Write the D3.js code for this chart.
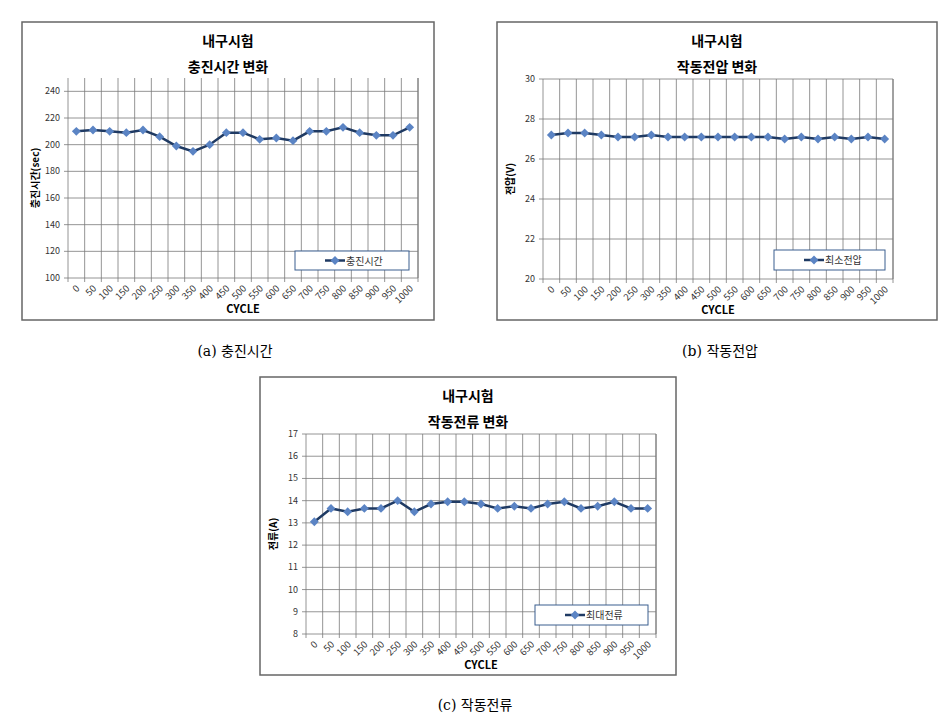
<!DOCTYPE html>
<html><head><meta charset="utf-8">
<script src="https://cdn.jsdelivr.net/npm/d3@7"></script>
<style>body{margin:0;background:#fff}svg{font-family:"Noto Sans CJK KR","Noto Sans",sans-serif}</style>
</head><body><svg id="v" width="942" height="713"></svg>
<script>
const cycles = [0,50,100,150,200,250,300,350,400,450,500,550,600,650,700,750,800,850,900,950,1000];
const chargeTime = [210,211,210,209,211,206,199,195,200,209,209,204,205,203,210,210,213,209,207,207,213];
const voltage = [27.2,27.3,27.3,27.2,27.1,27.1,27.2,27.1,27.1,27.1,27.1,27.1,27.1,27.1,27.0,27.1,27.0,27.1,27.0,27.1,27.0];
const current = [13.05,13.65,13.5,13.65,13.65,14.0,13.5,13.85,13.95,13.95,13.85,13.65,13.75,13.65,13.85,13.95,13.65,13.75,13.95,13.65,13.65];
const chargeTicks = [100,120,140,160,180,200,220,240];
const voltTicks = [20,22,24,26,28,30];
const currTicks = [8,9,10,11,12,13,14,15,16,17];

const svg = d3.select('#v');

function drawChart(c) {
  const g = svg.append('g');
  g.append('rect').attr('x', c.frame[0]).attr('y', c.frame[1])
    .attr('width', c.frame[2]).attr('height', c.frame[3])
    .attr('fill', '#fff').attr('stroke', '#666').attr('stroke-width', 1.5);
  const cx = c.frame[0] + c.frame[2] / 2;
  g.append('text').attr('x', cx).attr('y', c.frame[1] + 24).attr('text-anchor', 'middle')
    .attr('font-size', 14).attr('font-weight', 'bold').text('내구시험');
  g.append('text').attr('x', cx).attr('y', c.frame[1] + 50).attr('text-anchor', 'middle')
    .attr('font-size', 14).attr('font-weight', 'bold').text(c.title);

  const x = d3.scaleBand().domain(cycles).range([c.plot[0], c.plot[1]]);
  const y = d3.scaleLinear().domain(c.domain).range([c.plot[3], c.plot[2]]);

  // vertical grid at category boundaries
  const bounds = d3.range(cycles.length + 1).map(i => c.plot[0] + i * x.step());
  g.selectAll('.vg').data(bounds).join('line')
    .attr('x1', d => d).attr('x2', d => d).attr('y1', c.plot[2]).attr('y2', c.plot[3] + 4)
    .attr('stroke', '#7a7a7a').attr('stroke-width', 0.8);
  g.selectAll('.hg').data(c.ticks).join('line')
    .attr('x1', c.plot[0] - 4).attr('x2', c.plot[1]).attr('y1', d => y(d)).attr('y2', d => y(d))
    .attr('stroke', '#7a7a7a').attr('stroke-width', 0.8);
  g.append('line').attr('x1', c.plot[1]).attr('x2', c.plot[1]).attr('y1', c.plot[2]).attr('y2', c.plot[3])
    .attr('stroke', '#7a7a7a');

  g.selectAll('.yt').data(c.ticks).join('text')
    .attr('x', c.plot[0] - 8).attr('y', d => y(d) + 3).attr('text-anchor', 'end')
    .attr('font-size', 9).attr('fill', '#333').text(d => d);
  g.selectAll('.xt').data(cycles).join('text')
    .attr('transform', d => `translate(${x(d) + x.bandwidth() / 2 + 4},${c.plot[3] + 11}) rotate(-45)`)
    .attr('text-anchor', 'end').attr('font-size', 9.5).attr('fill', '#333').text(d => d);
  g.append('text').attr('x', (c.plot[0] + c.plot[1]) / 2).attr('y', c.plot[3] + 35)
    .attr('text-anchor', 'middle').attr('font-size', 11).attr('font-weight', 'bold').text('CYCLE');
  g.append('text').attr('transform', `translate(${c.frame[0] + 17},${(c.plot[2] + c.plot[3]) / 2}) rotate(-90)`)
    .attr('text-anchor', 'middle').attr('font-size', 10).attr('font-weight', 'bold').text(c.ylabel);

  const line = d3.line().x((d, i) => x(cycles[i]) + x.bandwidth() / 2).y(d => y(d));
  g.append('path').datum(c.values).attr('d', line).attr('fill', 'none')
    .attr('stroke', '#1f3a63').attr('stroke-width', 2.5);
  const diamond = d3.symbol().type(d3.symbolDiamond2).size(50);
  g.selectAll('.pt').data(c.values).join('path')
    .attr('transform', (d, i) => `translate(${x(cycles[i]) + x.bandwidth() / 2},${y(d)})`)
    .attr('d', diamond).attr('fill', '#5b84c4');

  const L = c.legend;
  g.append('rect').attr('x', L[0]).attr('y', L[1]).attr('width', L[2]).attr('height', L[3])
    .attr('fill', '#fff').attr('stroke', '#3a5f8f');
  const ly = L[1] + L[3] / 2;
  g.append('line').attr('x1', L[0] + 30).attr('x2', L[0] + 50).attr('y1', ly).attr('y2', ly)
    .attr('stroke', '#1f3a63').attr('stroke-width', 2.5);
  g.append('path').attr('transform', `translate(${L[0] + 40},${ly})`).attr('d', diamond).attr('fill', '#5b84c4');
  g.append('text').attr('x', L[0] + 51).attr('y', ly + 4).attr('font-size', 10).attr('fill', '#333').text(c.series);

  svg.append('text').attr('x', c.caption[0]).attr('y', c.caption[1]).attr('text-anchor', 'middle')
    .attr('font-size', 14).attr('font-family', 'DejaVu Serif, Noto Sans CJK KR').text(c.captionText);
}

drawChart({ frame: [22, 22, 412, 298], plot: [68, 418, 78, 278], domain: [100, 250], ticks: chargeTicks,
  values: chargeTime, title: '충진시간 변화', ylabel: '충진시간(sec)', series: '충진시간',
  legend: [295, 251, 114, 19], caption: [235, 356], captionText: '(a) 충진시간' });
drawChart({ frame: [497, 22, 440, 298], plot: [543, 893, 79, 279], domain: [20, 30], ticks: voltTicks,
  values: voltage, title: '작동전압 변화', ylabel: '전압(V)', series: '최소전압',
  legend: [774, 250, 111, 20], caption: [720, 356], captionText: '(b) 작동전압' });
drawChart({ frame: [260, 377, 416, 298], plot: [306, 656, 434, 634], domain: [8, 17], ticks: currTicks,
  values: current, title: '작동전류 변화', ylabel: '전류(A)', series: '최대전류',
  legend: [535, 605, 113, 20], caption: [475, 710], captionText: '(c) 작동전류' });
</script></body></html>
